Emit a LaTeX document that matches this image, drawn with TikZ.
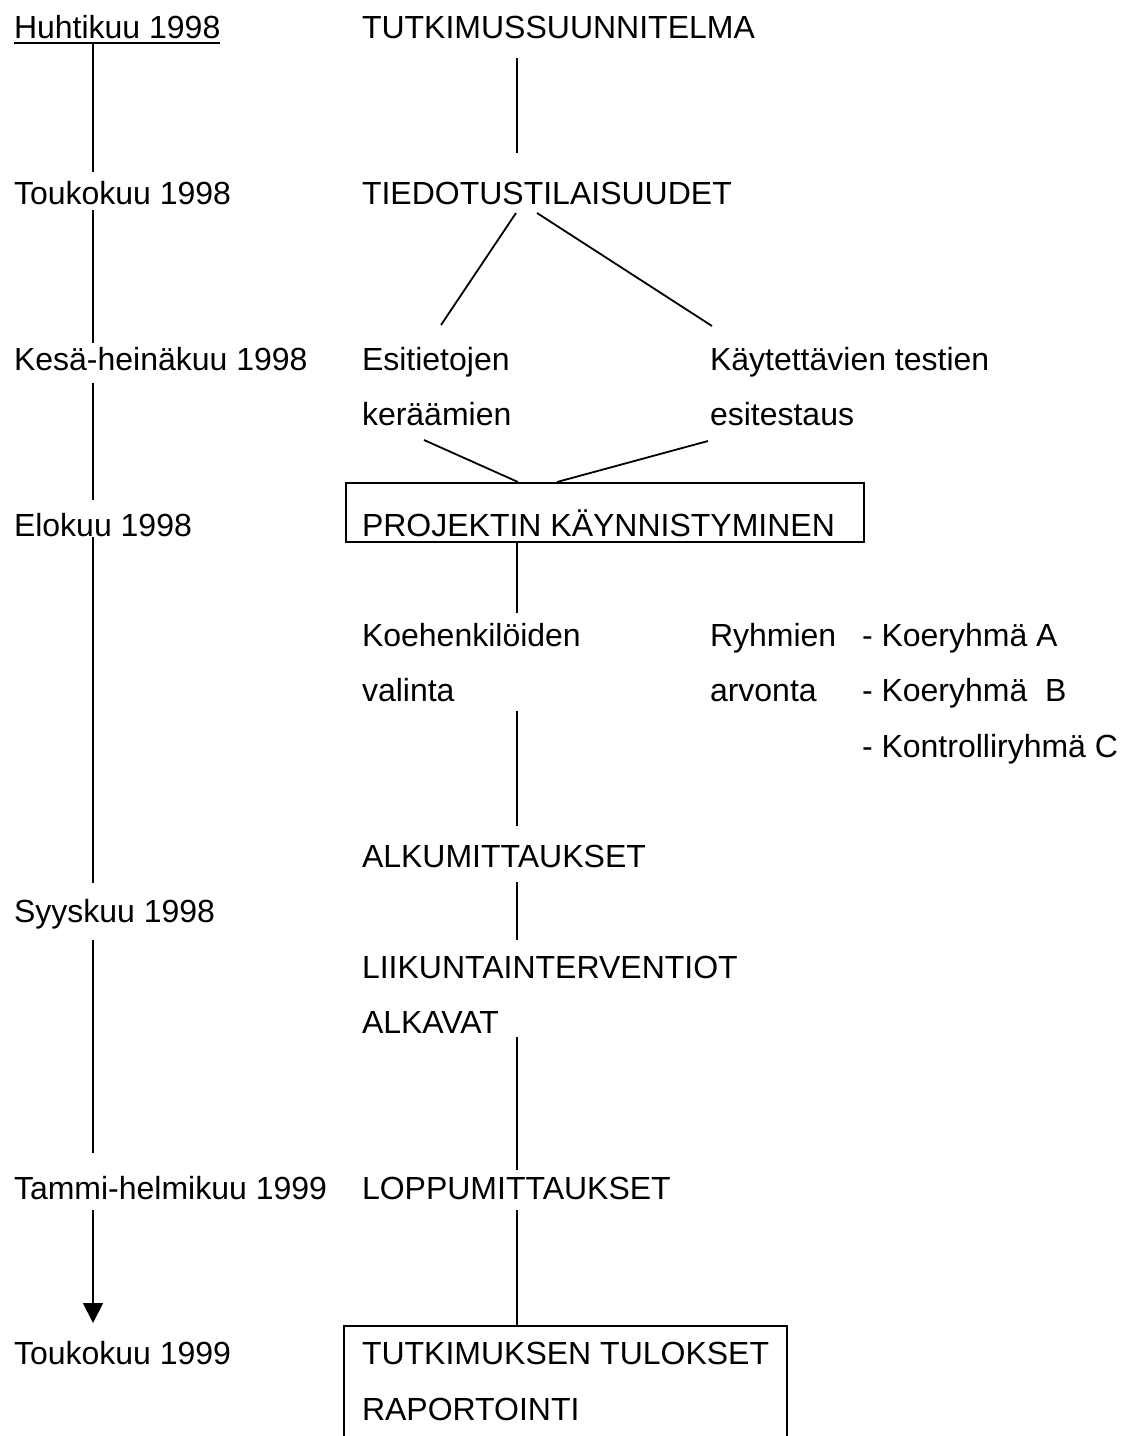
\documentclass[tikz,border=0pt]{standalone}
\usepackage{fontspec}
\setmainfont{Liberation Sans}
\usetikzlibrary{arrows.meta}

\begin{document}
\begin{tikzpicture}[x=0.5pt,y=-0.5pt,line width=0.9pt,>={Triangle[length=10pt,width=10pt]},
  lbl/.style={anchor=base west,inner sep=0pt,outer sep=0pt,text height=11.5pt,text depth=0pt,font=\fontsize{16}{19}\selectfont},
  boxed/.style={draw,rectangle,inner sep=0pt,anchor=north west}]
\useasboundingbox (0,0) rectangle (1120,1436);
\coordinate (tl) at (93,0);
\coordinate (ax) at (517,0);
% months
\node[lbl] (huh) at (14,38) {Huhtikuu 1998};
\node[lbl] (tou98) at (14,204) {Toukokuu 1998};
\node[lbl] (kesa) at (14,370) {Kesä-heinäkuu 1998};
\node[lbl] (elo) at (14,536) {Elokuu 1998};
\node[lbl] (syys) at (14,922) {Syyskuu 1998};
\node[lbl] (tammi) at (14,1199) {Tammi-helmikuu 1999};
\node[lbl] (tou99) at (14,1364) {Toukokuu 1999};
% phases
\node[lbl] (tutk) at (362,38) {TUTKIMUSSUUNNITELMA};
\node[lbl] (tied) at (362,204) {TIEDOTUSTILAISUUDET};
\node[lbl] (esi1) at (362,370) {Esitietojen};
\node[lbl] (esi2) at (362,425) {keräämien};
\node[lbl] (kay1) at (710,370) {Käytettävien testien};
\node[lbl] (kay2) at (710,425) {esitestaus};
\node[boxed,minimum width=259pt,minimum height=29.5pt] (projbox) at (345,482) {};
\node[lbl] (proj) at (362,536) {PROJEKTIN KÄYNNISTYMINEN};
\node[lbl] (koe1) at (362,646) {Koehenkilöiden};
\node[lbl] (koe2) at (362,701) {valinta};
\node[lbl] (ryh1) at (710,646) {Ryhmien};
\node[lbl] (ryh2) at (710,701) {arvonta};
\node[lbl] (grpA) at (862,646) {- Koeryhmä A};
\node[lbl] (grpB) at (862,701) {- Koeryhmä\ \ B};
\node[lbl] (grpC) at (862,757) {- Kontrolliryhmä C};
\node[lbl] (alku) at (362,867) {ALKUMITTAUKSET};
\node[lbl] (liik1) at (362,978) {LIIKUNTAINTERVENTIOT};
\node[lbl] (liik2) at (362,1033) {ALKAVAT};
\node[lbl] (lopp) at (362,1199) {LOPPUMITTAUKSET};
\node[boxed,minimum width=221.5pt,minimum height=70pt] (resbox) at (343,1325) {};
\node[lbl] (tulos1) at (362,1364) {TUTKIMUKSEN TULOKSET};
\node[lbl] (tulos2) at (362,1420) {RAPORTOINTI};
% time line
\draw ([yshift=-2.5pt]huh.base west) -- ([yshift=-2.5pt]huh.base east);
\draw[shorten <=2.5pt,shorten >=4.5pt] (huh.south -| tl) -- (tou98.north -| tl);
\draw[shorten <=3pt,shorten >=2pt] (tou98.south -| tl) -- (kesa.north -| tl);
\draw[shorten <=6.5pt,shorten >=6.5pt] (kesa.south -| tl) -- (elo.north -| tl);
\draw[shorten <=0.5pt,shorten >=8pt] (elo.south -| tl) -- (syys.north -| tl);
\draw[shorten <=9pt,shorten >=11.5pt] (syys.south -| tl) -- (tammi.north -| tl);
\draw[->,shorten <=5.5pt,shorten >=9pt] (tammi.south -| tl) -- (tou99.north -| tl);
% flow
\draw[shorten <=10pt,shorten >=14pt] (tutk.south -| ax) -- (tied.north -| ax);
\draw ([shift={(154,9)}]tied.base west) -- ([shift={(79,-45)}]esi1.base west);
\draw ([shift={(175,9)}]tied.base west) -- ([shift={(2,-44)}]kay1.base west);
\draw ([shift={(62,15)}]esi2.base west) -- ([shift={(173,0)}]projbox.north west);
\draw ([shift={(-2,16)}]kay2.base west) -- ([shift={(212,0)}]projbox.north west);
\draw[shorten >=5pt] (projbox.south -| ax) -- (koe1.north -| ax);
\draw[shorten <=5pt,shorten >=9pt] (koe2.south -| ax) -- (alku.north -| ax);
\draw[shorten <=7.5pt,shorten >=7.5pt] (alku.south -| ax) -- (liik1.north -| ax);
\draw[shorten <=2pt,shorten >=3pt] (liik2.south -| ax) -- (lopp.north -| ax);
\draw[shorten <=5.5pt] (lopp.south -| ax) -- (resbox.north -| ax);
\end{tikzpicture}
\end{document}
